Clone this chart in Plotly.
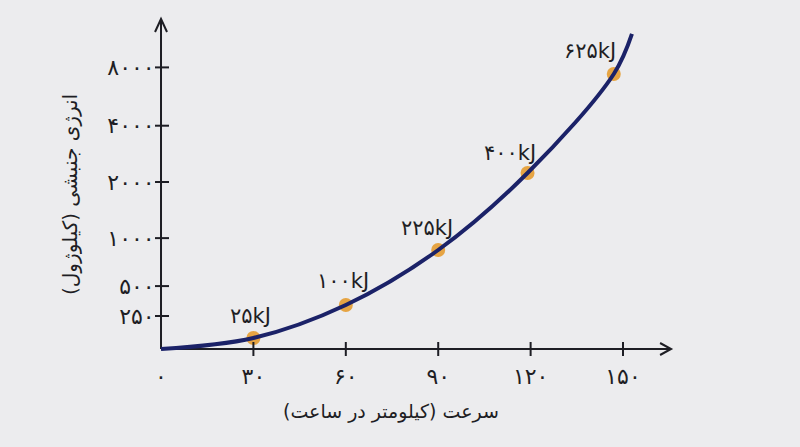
import plotly.graph_objects as go

# ---- data ----
speed = [30, 60, 90, 119, 147]                 # km/h (dot positions)
energy = [25, 100, 225, 400, 625]              # kJ
point_labels = ["۲۵kJ", "۱۰۰kJ", "۲۲۵kJ", "۴۰۰kJ", "۶۲۵kJ"]

curve_x = [0, 30, 60, 90, 119, 147, 152.9]
curve_y = [0, 25, 100, 225, 400, 625, 716]

x_ticks = [0, 30, 60, 90, 120, 150]
x_tick_text = ["۰", "۳۰", "۶۰", "۹۰", "۱۲۰", "۱۵۰"]

y_tick_pos = [75, 143, 252, 379.5, 507.5, 640]
y_tick_text = ["۲۵۰", "۵۰۰", "۱۰۰۰", "۲۰۰۰", "۴۰۰۰", "۸۰۰۰"]

x_title = "سرعت (کیلومتر در ساعت)"
y_title = "انرژی جنبشی (کیلوژول)"

# ---- styles ----
BG = "#ececee"
INK = "#1e1e24"
NAVY = "#1b2268"
ORANGE = "#e69c30"
FONT = "DejaVu Sans"

X_END = 165.6
Y_END = 750

fig = go.Figure()

fig.add_trace(go.Scatter(
    x=speed, y=energy, mode="markers",
    marker=dict(size=14, color=ORANGE, opacity=0.9, line=dict(width=0)),
    cliponaxis=False, hoverinfo="skip", showlegend=False))

fig.add_trace(go.Scatter(
    x=curve_x, y=curve_y, mode="lines",
    line=dict(color=NAVY, width=4, shape="spline", smoothing=1.0),
    cliponaxis=False, hoverinfo="skip", showlegend=False))

shapes = []
# axes
shapes.append(dict(type="line", xref="x", yref="y", x0=0, x1=X_END, y0=0, y1=0,
                   line=dict(color=INK, width=2), layer="below"))
shapes.append(dict(type="line", xref="x", yref="y", x0=0, x1=0, y0=0, y1=Y_END,
                   line=dict(color=INK, width=2), layer="below"))
# arrowheads
shapes.append(dict(type="path", xref="x", yref="y", xsizemode="pixel", ysizemode="pixel",
                   xanchor=X_END, yanchor=0, path="M -11,6 L 0,0 L -11,-6",
                   line=dict(color=INK, width=2)))
shapes.append(dict(type="path", xref="x", yref="y", xsizemode="pixel", ysizemode="pixel",
                   xanchor=0, yanchor=Y_END, path="M -6,-13 L 0,0 L 6,-13",
                   line=dict(color=INK, width=2)))
# tick marks
for t in x_ticks[1:]:
    shapes.append(dict(type="line", xref="x", yref="y", ysizemode="pixel", yanchor=0,
                       x0=t, x1=t, y0=-7, y1=7, line=dict(color=INK, width=2)))
for t in y_tick_pos:
    shapes.append(dict(type="line", xref="x", yref="y", xsizemode="pixel", xanchor=0,
                       x0=-6, x1=8, y0=t, y1=t, line=dict(color=INK, width=2)))

annotations = []
shifts = [(-3, 22), (-3, 24), (-11, 22), (-18, 20), (-24, 23)]
for xv, yv, txt, (dx, dy) in zip(speed, energy, point_labels, shifts):
    annotations.append(dict(x=xv, y=yv, xref="x", yref="y", text=txt, showarrow=False,
                            xshift=dx, yshift=dy,
                            font=dict(family=FONT, size=21, color=INK)))
annotations.append(dict(x=0.465, y=-0.156, xref="paper", yref="paper", text=x_title,
                        showarrow=False, xanchor="center", yanchor="middle",
                        font=dict(family=FONT, size=19, color=INK)))
annotations.append(dict(x=-0.1296, y=0.467, xref="paper", yref="paper", text=y_title,
                        showarrow=False, textangle=-90, xanchor="center", yanchor="middle",
                        font=dict(family=FONT, size=20, color=INK)))

fig.update_layout(
    width=800, height=447,
    margin=dict(l=140, r=120, t=10, b=90),
    paper_bgcolor=BG, plot_bgcolor=BG,
    shapes=shapes, annotations=annotations,
    showlegend=False,
    xaxis=dict(range=[-6.82, 168.5], showgrid=False, zeroline=False, showline=False,
               tickvals=x_ticks, ticktext=x_tick_text, ticks="outside", ticklen=8,
               tickcolor="rgba(0,0,0,0)", anchor="free", position=0.023, automargin=False,
               tickfont=dict(family=FONT, size=22, color=INK), fixedrange=True),
    yaxis=dict(range=[-18.18, 770.45], showgrid=False, zeroline=False, showline=False,
               tickvals=y_tick_pos, ticktext=y_tick_text, ticks="outside", ticklen=2,
               tickcolor="rgba(0,0,0,0)", anchor="free", position=0.0389, automargin=False,
               tickfont=dict(family=FONT, size=22, color=INK), fixedrange=True),
)

fig.write_html("out.html", config={"displayModeBar": False},
               post_script="document.body.style.margin='0';")
